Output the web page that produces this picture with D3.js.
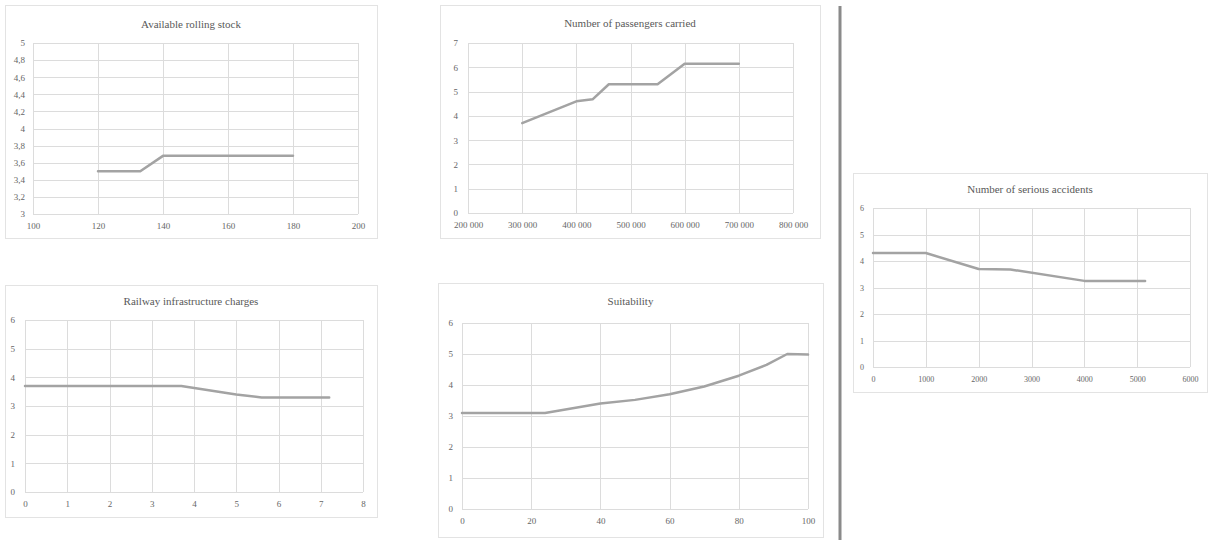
<!DOCTYPE html>
<html><head><meta charset="utf-8">
<script src="https://cdn.jsdelivr.net/npm/d3@7"></script>
<style>body{margin:0;background:#fff;} svg{display:block;}</style>
</head><body>
<svg id="c" width="1208" height="540"></svg>
<script>
// ---- data ----
const rollingStockX = [120, 133, 140, 180];
const rollingStockY = [3.5, 3.5, 3.68, 3.68];
const rollingStockXTicks = [100, 120, 140, 160, 180, 200];
const rollingStockYTicks = [3, 3.2, 3.4, 3.6, 3.8, 4, 4.2, 4.4, 4.6, 4.8, 5];

const passengersX = [300000, 400000, 430000, 460000, 550000, 600000, 700000];
const passengersY = [3.7, 4.6, 4.68, 5.3, 5.3, 6.15, 6.15];
const passengersXTicks = [200000, 300000, 400000, 500000, 600000, 700000, 800000];
const passengersYTicks = [0, 1, 2, 3, 4, 5, 6, 7];

const chargesX = [0, 3.7, 5, 5.6, 7.2];
const chargesY = [3.7, 3.7, 3.4, 3.3, 3.3];
const chargesXTicks = [0, 1, 2, 3, 4, 5, 6, 7, 8];
const chargesYTicks = [0, 1, 2, 3, 4, 5, 6];

const suitabilityX = [0, 24, 32, 40, 50, 60, 70, 80, 88, 94, 100];
const suitabilityY = [3.1, 3.1, 3.25, 3.4, 3.52, 3.7, 3.95, 4.3, 4.65, 5.0, 4.98];
const suitabilityXTicks = [0, 20, 40, 60, 80, 100];
const suitabilityYTicks = [0, 1, 2, 3, 4, 5, 6];

const accidentsX = [0, 1000, 2000, 2600, 4000, 5150];
const accidentsY = [4.3, 4.3, 3.7, 3.68, 3.25, 3.25];
const accidentsXTicks = [0, 1000, 2000, 3000, 4000, 5000, 6000];
const accidentsYTicks = [0, 1, 2, 3, 4, 5, 6];

const titles = ["Available rolling stock", "Number of passengers carried", "Railway infrastructure charges", "Suitability", "Number of serious accidents"];

// ---- drawing ----
const svg = d3.select("#c");
const FONT = "Liberation Serif, serif";
const commaDec = d => String(+d.toFixed(1)).replace(".", ",");
const spaced = d => d3.format(",")(d).replace(/,/g, " ");

function panel(o) {
  const g = svg.append("g");
  g.append("rect").attr("x", o.frame[0] + 0.5).attr("y", o.frame[1] + 0.5)
    .attr("width", o.frame[2] - o.frame[0]).attr("height", o.frame[3] - o.frame[1])
    .attr("fill", "#fff").attr("stroke", "#e3e3e3");
  const x = d3.scaleLinear().domain(d3.extent(o.xt)).range([o.plot[0], o.plot[2]]);
  const y = d3.scaleLinear().domain(d3.extent(o.yt)).range([o.plot[3], o.plot[1]]);
  // gridlines
  g.append("g").selectAll("line").data(o.yt).join("line")
    .attr("x1", o.plot[0]).attr("x2", o.plot[2])
    .attr("y1", d => Math.round(y(d)) + 0.5).attr("y2", d => Math.round(y(d)) + 0.5)
    .attr("stroke", "#dcdcdc");
  g.append("g").selectAll("line").data(o.xt).join("line")
    .attr("y1", o.plot[1]).attr("y2", o.plot[3])
    .attr("x1", d => Math.round(x(d)) + 0.5).attr("x2", d => Math.round(x(d)) + 0.5)
    .attr("stroke", "#dcdcdc");
  // axes
  const ya = d3.axisLeft(y).tickValues(o.yt).tickSize(0).tickPadding(o.yPad || 8).tickFormat(o.yf || (d => d));
  const xa = d3.axisBottom(x).tickValues(o.xt).tickSize(0).tickPadding(9).tickFormat(o.xf || (d => d));
  const yg = g.append("g").attr("transform", `translate(${o.plot[0]},0)`).call(ya);
  const xg = g.append("g").attr("transform", `translate(0,${o.plot[3]})`).call(xa);
  [yg, xg].forEach(a => {
    a.select(".domain").remove();
    a.selectAll("text").attr("fill", "#666").attr("font-family", FONT).attr("font-size", o.fs || 9);
  });
  // title
  g.append("text").attr("x", (o.frame[0] + o.frame[2]) / 2).attr("y", o.titleY)
    .attr("text-anchor", "middle").attr("font-family", FONT).attr("font-size", 11)
    .attr("fill", "#595959").text(o.title);
  // line
  const pts = o.xs.map((v, i) => [v, o.ys[i]]);
  g.append("path").datum(pts)
    .attr("d", d3.line().x(d => x(d[0])).y(d => y(d[1])))
    .attr("fill", "none").attr("stroke", "#a3a3a3").attr("stroke-width", 2.5)
    .attr("stroke-linejoin", "round").attr("stroke-linecap", "round");
}

panel({frame: [5, 5, 377, 238], plot: [33, 43, 358, 214], titleY: 28, title: titles[0],
  xs: rollingStockX, ys: rollingStockY, xt: rollingStockXTicks, yt: rollingStockYTicks, yf: commaDec});
panel({frame: [440, 5, 820, 238], plot: [468, 43, 793, 213], titleY: 27, title: titles[1],
  xs: passengersX, ys: passengersY, xt: passengersXTicks, yt: passengersYTicks, xf: spaced, yPad: 10});
panel({frame: [5, 285, 377, 517], plot: [25, 320, 363, 492], titleY: 305, title: titles[2],
  xs: chargesX, ys: chargesY, xt: chargesXTicks, yt: chargesYTicks, yPad: 10});
panel({frame: [438, 283, 823, 537], plot: [462, 323, 808, 509], titleY: 305, title: titles[3],
  xs: suitabilityX, ys: suitabilityY, xt: suitabilityXTicks, yt: suitabilityYTicks, yPad: 9});
panel({frame: [853, 173, 1207, 392], plot: [873, 208, 1190, 367], titleY: 193, title: titles[4],
  xs: accidentsX, ys: accidentsY, xt: accidentsXTicks, yt: accidentsYTicks, yPad: 9, fs: 8});

// separator
svg.append("line").attr("x1", 840).attr("x2", 840).attr("y1", 6).attr("y2", 540)
  .attr("stroke", "#8a8a8a").attr("stroke-width", 3);
</script>
</body></html>
